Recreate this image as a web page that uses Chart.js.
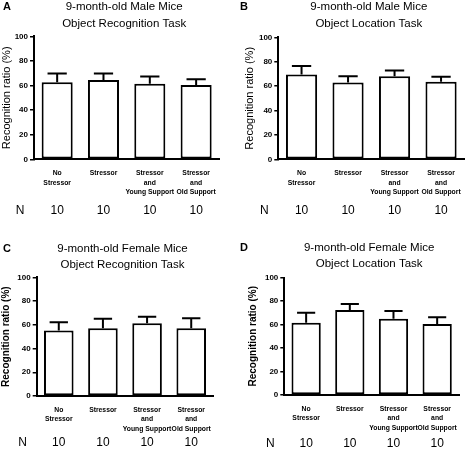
<!DOCTYPE html>
<html>
<head>
<meta charset="utf-8">
<script src="https://cdn.jsdelivr.net/npm/chart.js@4.4.0/dist/chart.umd.min.js"></script>
<style>
body { margin: 0; background: #fff; }
#wrap { position: relative; width: 474px; height: 449px; }
#wrap canvas { position: absolute; }
</style>
</head>
<body>
<div id="wrap">
    <canvas id="chartA" width="237" height="225" style="left:0;top:0"></canvas>
    <canvas id="chartB" width="237" height="225" style="left:237px;top:0"></canvas>
    <canvas id="chartC" width="237" height="224" style="left:0;top:225px"></canvas>
    <canvas id="chartD" width="237" height="224" style="left:237px;top:225px"></canvas>
</div>
<script>
/* data */
var groups = [["No", "Stressor"], "Stressor", ["Stressor", "and", "Young Support"], ["Stressor", "and", "Old Support"]];
var nPerGroup = [10, 10, 10, 10];
var yTitle = "Recognition ratio (%)";

var maleRecogMean = [62.7, 64.4, 61.5, 60.5];
var maleRecogSem = [7.0, 5.3, 5.8, 4.5];
var maleLocMean = [69.6, 63.0, 68.1, 63.5];
var maleLocSem = [6.9, 5.0, 4.7, 4.1];
var femaleRecogMean = [55.2, 57.0, 61.2, 57.0];
var femaleRecogSem = [7.0, 8.1, 5.5, 8.4];
var femaleLocMean = [61.5, 72.4, 65.0, 60.4];
var femaleLocSem = [8.5, 5.1, 6.5, 5.8];

var FONT = "'Liberation Sans', Arial, Helvetica, sans-serif";

// upper error bar with a cap, drawn on top of each bar
var errorBars = {
    id: 'errorBars',
    afterDatasetsDraw: function (chart) {
        var opts = chart.options.plugins.errorBars;
        var ctx = chart.ctx;
        var yScale = chart.scales.y;
        var values = chart.data.datasets[0].data;
        ctx.save();
        ctx.strokeStyle = '#000';
        ctx.lineWidth = 2;
        chart.getDatasetMeta(0).data.forEach(function (bar, i) {
            var top = yScale.getPixelForValue(values[i] + opts.sem[i]);
            var half = bar.width * 0.31;
            ctx.beginPath();
            ctx.moveTo(bar.x, bar.y);
            ctx.lineTo(bar.x, top);
            ctx.moveTo(bar.x - half, top);
            ctx.lineTo(bar.x + half, top);
            ctx.stroke();
        });
        ctx.restore();
    }
};

// panel letter, two-line title and the N row
var panelText = {
    id: 'panelText',
    afterDraw: function (chart) {
        var opts = chart.options.plugins.panelText;
        var ctx = chart.ctx;
        var area = chart.chartArea;
        var xScale = chart.scales.x;
        ctx.save();
        ctx.fillStyle = '#000';
        ctx.textBaseline = 'middle';

        ctx.font = 'bold 11px ' + FONT;
        ctx.textAlign = 'left';
        ctx.fillText(opts.letter, 3, opts.titleY[0] - 0);

        ctx.font = '11.5px ' + FONT;
        ctx.textAlign = 'center';
        var cx = (area.left + area.right) / 2 - 2.5;
        opts.title.forEach(function (line, i) {
            ctx.fillText(line, cx, opts.titleY[i]);
        });

        ctx.font = '12px ' + FONT;
        ctx.fillText('N', area.left - 14, opts.nY);
        nPerGroup.forEach(function (n, i) {
            ctx.fillText(String(n), xScale.getPixelForValue(i), opts.nY);
        });
        ctx.restore();
    }
};

function makePanel(id, title, means, sems, p) {
    new Chart(document.getElementById(id), {
        type: 'bar',
        data: {
            labels: groups,
            datasets: [{
                data: means,
                backgroundColor: '#fff',
                borderColor: '#000',
                borderWidth: 2,
                borderSkipped: false,
                barPercentage: 0.67,
                categoryPercentage: 1
            }]
        },
        options: {
            responsive: false,
            animation: false,
            events: [],
            layout: { padding: { top: p.top, right: p.right, left: 0, bottom: 0 } },
            scales: {
                x: {
                    offset: true,
                    grid: { display: false },
                    border: { display: true, color: '#000', width: 2 },
                    ticks: {
                        color: '#000',
                        autoSkip: false,
                        maxRotation: 0,
                        padding: 1.2,
                        font: { family: FONT, size: 6.8, weight: 'bold', lineHeight: 1.4 }
                    },
                    afterFit: function (s) { s.height = p.axisH; }
                },
                y: {
                    min: 0,
                    max: 100,
                    grid: { drawOnChartArea: false, drawTicks: true, tickLength: 4, color: '#000', lineWidth: 1.5 },
                    border: { display: true, color: '#000', width: 2 },
                    ticks: {
                        stepSize: 20,
                        color: '#000',
                        padding: 2,
                        font: { family: FONT, size: 8, weight: 'bold' }
                    },
                    title: {
                        display: true,
                        text: yTitle,
                        color: '#000',
                        padding: { top: p.titlePad, bottom: 0 },
                        font: { family: FONT, size: p.titleSize, weight: p.titleWeight }
                    },
                    afterFit: function (s) { s.width = p.axisW; }
                }
            },
            plugins: {
                legend: { display: false },
                tooltip: { enabled: false },
                errorBars: { sem: sems },
                panelText: { letter: p.letter, title: title, titleY: p.titleY, nY: p.nY }
            }
        },
        plugins: [errorBars, panelText]
    });
}

makePanel('chartA', ['9-month-old Male Mice', 'Object Recognition Task'], maleRecogMean, maleRecogSem,
    { letter: 'A', top: 36.3, right: 17.7, axisW: 34, axisH: 65.7, titlePad: 0, titleSize: 11, titleWeight: 'normal', titleY: [6.7, 24], nY: 210.7 });
makePanel('chartB', ['9-month-old Male Mice', 'Object Location Task'], maleLocMean, maleLocSem,
    { letter: 'B', top: 37.3, right: 9.7, axisW: 41.3, axisH: 65.7, titlePad: 6.7, titleSize: 11, titleWeight: 'normal', titleY: [6.7, 24], nY: 210.7 });
makePanel('chartC', ['9-month-old Female Mice', 'Object Recognition Task'], femaleRecogMean, femaleRecogSem,
    { letter: 'C', top: 52.3, right: 23.7, axisW: 36.7, axisH: 53, titlePad: 0.7, titleSize: 10, titleWeight: 'bold', titleY: [24, 40], nY: 218 });
makePanel('chartD', ['9-month-old Female Mice', 'Object Location Task'], femaleLocMean, femaleLocSem,
    { letter: 'D', top: 52.5, right: 15, axisW: 47.3, axisH: 54, titlePad: 10, titleSize: 10, titleWeight: 'bold', titleY: [23.3, 39.3], nY: 218.3 });
</script>
</body>
</html>
